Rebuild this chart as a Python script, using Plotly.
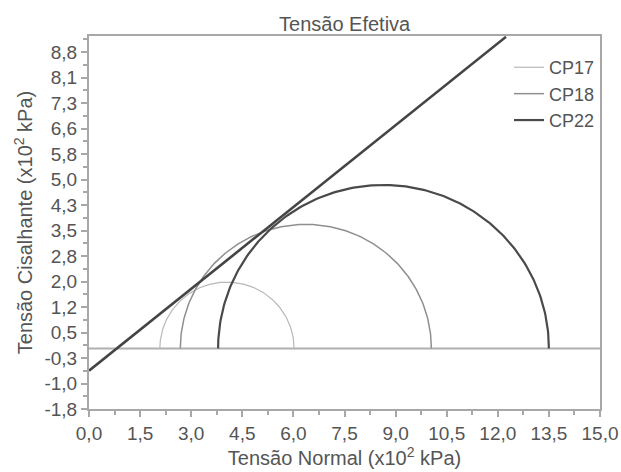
import numpy as np
import plotly.graph_objects as go

# Mohr circles (x10^2 kPa): sigma3 and sigma1
series = ["CP17", "CP18", "CP22"]
sigma3 = [2.08, 2.68, 3.79]
sigma1 = [6.02, 10.05, 13.50]
colors = ["#b8b8b8", "#8f8f8f", "#4a4a4a"]
widths = [1.2, 1.5, 2.2]

# Failure envelope: tau = c + sigma * tan(phi)
env_c = -0.66
env_slope = 0.81
env_x = [0.0, 12.24]

x_ticks = [0, 1.5, 3.0, 4.5, 6.0, 7.5, 9.0, 10.5, 12.0, 13.5, 15.0]
x_labels = ["0,0", "1,5", "3,0", "4,5", "6,0", "7,5", "9,0", "10,5", "12,0", "13,5", "15,0"]
y_labels = ["-1,8", "-1,0", "-0,3", "0,5", "1,2", "2,0", "2,8", "3,5", "4,3", "5,0",
            "5,8", "6,6", "7,3", "8,1", "8,8"]
y_min, y_max_label, y_top = -1.8, 8.8, 9.28
y_step = (y_max_label - y_min) / (len(y_labels) - 1)
y_ticks = [y_min + i * y_step for i in range(len(y_labels))]
y_minor = [y_min + (i + 0.5) * y_step for i in range(len(y_labels))]
x_minor = [v + 0.75 for v in x_ticks[:-1]]

font = "Liberation Sans, Arial, sans-serif"
txt = "#555555"

fig = go.Figure()

# zero line
fig.add_trace(go.Scatter(x=[0, 15], y=[0, 0], mode="lines",
                         line=dict(color="#b0b0b0", width=2), showlegend=False,
                         hoverinfo="skip"))

t = np.linspace(0, np.pi, 200)
for name, s3, s1, c, w in zip(series, sigma3, sigma1, colors, widths):
    cen = (s1 + s3) / 2
    r = (s1 - s3) / 2
    fig.add_trace(go.Scatter(x=cen + r * np.cos(t), y=r * np.sin(t), mode="lines",
                             name=name, line=dict(color=c, width=w)))

ex = np.array(env_x)
fig.add_trace(go.Scatter(x=ex, y=env_c + env_slope * ex, mode="lines",
                         line=dict(color="#444444", width=2.6), showlegend=False))

axis_common = dict(showline=True, linecolor="#a8a8a8", linewidth=2, mirror=True,
                   ticks="outside", ticklen=6, tickcolor="#a8a8a8", tickwidth=1.5,
                   showgrid=False, zeroline=False, automargin=False,
                   tickfont=dict(family=font, size=19, color=txt))

fig.update_layout(
    width=621, height=472,
    margin=dict(l=89, r=21, t=36, b=63),
    paper_bgcolor="white", plot_bgcolor="white",
    title=dict(text="Tensão Efetiva", x=0.555, xanchor="center", y=0.965, yanchor="top",
               font=dict(family=font, size=20, color=txt)),
    xaxis=dict(range=[0, 15], tickmode="array", tickvals=x_ticks, ticktext=x_labels,
               minor=dict(tickvals=x_minor, ticks="outside", ticklen=4, tickcolor="#a8a8a8"),
               title=dict(text="Tensão Normal (x10<sup>2</sup> kPa)", standoff=2,
                          font=dict(family=font, size=20, color=txt)),
               **axis_common),
    yaxis=dict(range=[y_min, y_top], tickmode="array", tickvals=y_ticks, ticktext=y_labels,
               minor=dict(tickvals=y_minor, ticks="outside", ticklen=4, tickcolor="#a8a8a8"),
               title=dict(text="Tensão Cisalhante (x10<sup>2</sup> kPa)", standoff=6,
                          font=dict(family=font, size=20, color=txt)),
               **axis_common),
    legend=dict(x=1.0, xanchor="right", y=0.965, yanchor="top", bgcolor="rgba(0,0,0,0)",
                font=dict(family=font, size=18, color=txt), tracegroupgap=0,
                itemwidth=30),
)

fig.write_html("out.html", config={"displayModeBar": False},
               post_script="document.body.style.margin='0';document.body.style.overflow='hidden';")
